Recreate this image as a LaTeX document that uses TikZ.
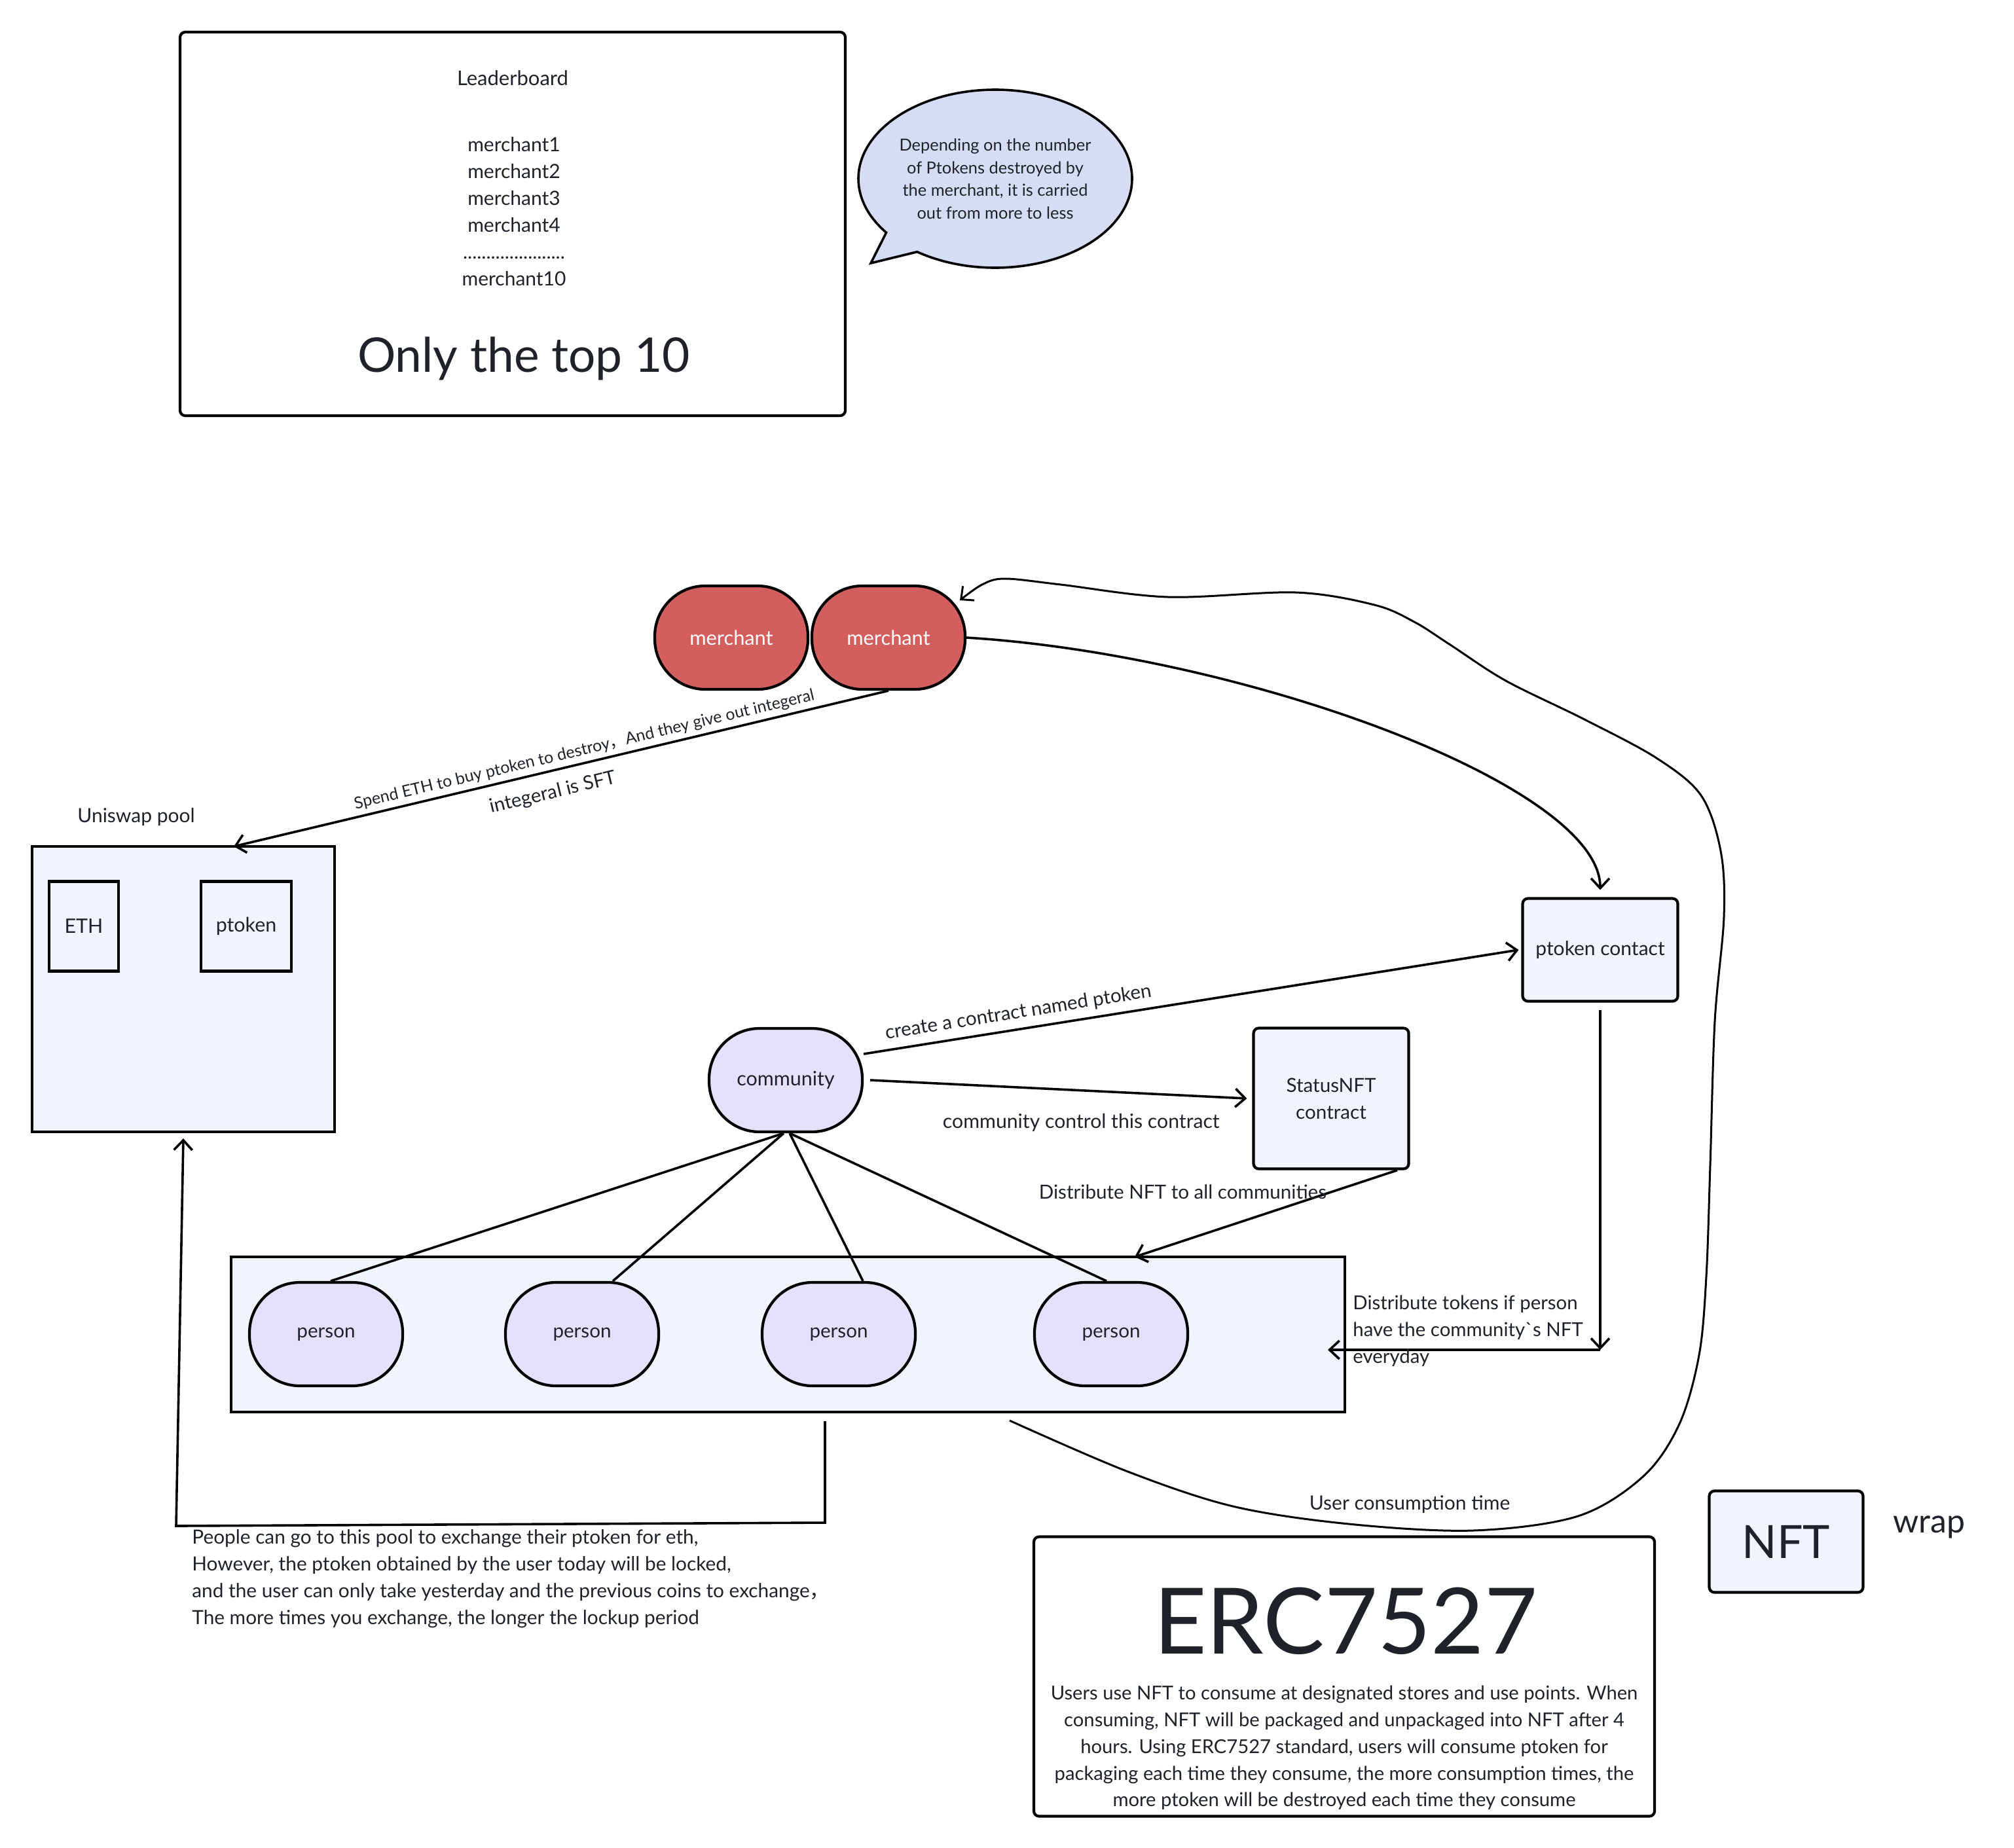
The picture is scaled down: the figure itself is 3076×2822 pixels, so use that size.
\documentclass[tikz,border=0pt]{standalone}
\usepackage{fontspec}
\setmainfont{Lato}
\newfontfamily\latonotex[Ligatures=TeXOff]{Lato}
\newfontfamily\cjk{Noto Sans CJK SC}
\usetikzlibrary{arrows.meta,shapes.callouts,calc}
\definecolor{txt}{HTML}{1F2329}
\definecolor{lblue}{HTML}{EFF4FD}
\definecolor{lav}{HTML}{E7E0FD}
\definecolor{mred}{HTML}{D35E5E}
\definecolor{bub}{HTML}{D6DCF4}
\newcommand\fsz[2]{\fontsize{#1}{#2}\selectfont}
\tikzset{
  every node/.style={text=txt, inner sep=0pt},
  rbox/.style={draw=black, line width=2.1pt, rounded corners=4pt},
  sbox/.style={draw=black, line width=2.1pt, fill=lblue},
  pill/.style={draw=black, line width=2.1pt, rounded corners=38.5pt, minimum width=117pt, minimum height=79pt, font=\fsz{15.2}{18}},
  arr/.style={line width=1.8pt, -{Straight Barb[length=7.5pt,width=14pt]}},
  ln/.style={line width=1.8pt},
  lbl/.style={font=\fsz{15}{20.5}},
}
\begin{document}
\begin{tikzpicture}[x=0.5pt,y=-0.5pt]
\path[use as bounding box] (0,0) rectangle (3076,2822);

% Leaderboard
\node[rbox, fill=white, minimum width=508pt, minimum height=293pt] (lead) at (783,342) {};
\node[font=\fsz{15.5}{20.5}] (leadt) at (783,119) {Leaderboard};
\node[lbl, align=center] (leadl) at (785,323) {merchant1\\merchant2\\merchant3\\merchant4\\......................\\merchant10};
\node[font=\fsz{36.5}{44}] (top10) at (800,548) {Only the top 10};

% speech bubble
\node[ellipse callout, draw=black, line width=1.8pt, fill=bub, minimum width=209pt, minimum height=136pt,
      callout absolute pointer={(1330,402)}, callout pointer arc=18, align=center, font=\fsz{12.7}{17.25}] (bubble) at (1520,273)
  {Depending on the number\\of Ptokens destroyed by\\the merchant, it is carried\\out from more to less};

% merchants
\node[pill, fill=mred, text=white, font=\fsz{15.4}{18}] (m1) at (1117,974) {merchant};
\node[pill, fill=mred, text=white, font=\fsz{15.4}{18}] (m2) at (1357,974) {merchant};

% Uniswap pool
\node[lbl] (poollbl) at (208,1248) {Uniswap pool};
\node[sbox, minimum width=231pt, minimum height=218pt] (pool) at (280,1511) {};
\node[sbox, minimum width=53pt, minimum height=68.5pt, font=\fsz{15.2}{18}] (eth) at (128,1415) {ETH};
\node[sbox, minimum width=69pt, minimum height=68.5pt, font=\fsz{15.2}{18}] (ptk) at (376,1415) {ptoken};
\coordinate (poolin) at (357,1293);

% contracts
\node[rbox, fill=lblue, minimum width=118.5pt, minimum height=78.5pt, font=\fsz{15}{18}] (contact) at (2444,1451) {ptoken contact};
\node[rbox, fill=lblue, minimum width=118.5pt, minimum height=107.5pt, align=center, font=\fsz{14.8}{20.5}] (snft) at (2033,1678) {StatusNFT\\contract};
\node[pill, fill=lav] (comm) at (1200,1650) {community};

% persons group
\node[sbox, minimum width=850.5pt, minimum height=118.5pt] (grp) at (1203.5,2038.5) {};
\node[pill, fill=lav, font=\fsz{14.8}{18}] (p1) at (498,2038) {person};
\node[pill, fill=lav, font=\fsz{14.8}{18}] (p2) at (889,2038) {person};
\node[pill, fill=lav, font=\fsz{14.8}{18}] (p3) at (1281,2038) {person};
\node[pill, fill=lav, font=\fsz{14.8}{18}] (p4) at (1697,2038) {person};

% ERC7527
\node[rbox, fill=white, minimum width=474pt, minimum height=213.5pt] (erc) at (2053,2561) {};
\node[font=\fsz{70}{80}] (erct) at (2055,2476) {ERC7527};
\node[align=center, font=\fsz{14.6}{20.4}] (ercb) at (2053,2670) {Users use NFT to consume at designated stores and use points. When\\consuming, NFT will be packaged and unpackaged into NFT after 4\\hours. Using ERC7527 standard, users will consume ptoken for\\packaging each time they consume, the more consumption times, the\\more ptoken will be destroyed each time they consume};

% NFT wrap
\node[rbox, fill=lblue, minimum width=117.5pt, minimum height=77.5pt, font=\fsz{35}{40}] (nft) at (2728,2355) {NFT};
\node[font=\fsz{25}{30}] (wrap) at (2946,2333) {wrap};

% connectors
\draw[arr] (m2.south) -- node[sloped, above=3pt, pos=0.46, font=\fsz{12.5}{14}] (spend) {Spend ETH to buy ptoken to destroy{\cjk ，}And they give out integeral}
   node[sloped, below=9pt, pos=0.52, font=\fsz{14.7}{16}] (sft) {integeral is SFT} (poolin);

\draw[arr] (m2.east) .. controls (1900,1000) and (2444,1200) .. ([yshift=5.5pt]contact.north);

\draw[arr] ([yshift=20pt]comm.east) -- node[sloped, above=5pt, pos=0.24, font=\fsz{14.8}{18}] (create) {create a contract named ptoken} ([xshift=-2pt]contact.west);
\draw[arr] ([xshift=5pt]comm.east) -- node[pos=0.56, below=17pt, font=\fsz{15.1}{18}] (ctrl) {community control this contract} ([xshift=-4pt]snft.west);

\coordinate (nftin) at (1733,1920);
\draw[arr] ([xshift=50.5pt]snft.south) -- node[pos=0.25, left=3pt, font=\fsz{14.8}{18}] (distnft) {Distribute NFT to all communities} (nftin);

\draw[ln] ([xshift=-1.5pt]comm.south) -- ([xshift=3.5pt]p1.north);
\draw[ln] ([xshift=-1.5pt]comm.south) -- ([xshift=23.5pt]p2.north);
\draw[ln] ([xshift=3pt]comm.south) -- ([xshift=18.5pt]p3.north);
\draw[ln] ([xshift=3pt]comm.south) -- ([xshift=-3.5pt]p4.north);

\coordinate (corner) at (2444,2062);
\coordinate (tokin) at (2028,2062);
\draw[arr] ([yshift=-5.5pt]contact.south) -- (corner);
\draw[arr] (corner) -- (tokin);
\node[anchor=west, align=left, font=\fsz{14.7}{20.5}] (disttok) at (2066,2033) {Distribute tokens if person\\have the community{\latonotex\symbol{96}}s NFT\\everyday};

\coordinate (lb1) at (1260,2171);
\coordinate (lb2) at (1260,2326);
\coordinate (lb3) at (269,2331);
\draw[arr] (lb1) -- (lb2) -- (lb3) -- ([yshift=-4pt]pool.south);
\node[anchor=north west, align=left, font=\fsz{14.9}{20.5}] (people) at (293,2336) {People can go to this pool to exchange their ptoken for eth,\\However, the ptoken obtained by the user today will be locked,\\and the user can only take yesterday and the previous coins to exchange{\cjk ，}\\The more times you exchange, the longer the lockup period};

\coordinate (uc) at (1542,2170);
\draw[arr, line width=1.5pt] plot[smooth, tension=0.55] coordinates {(uc) (1720,2247) (1883,2301) (2060,2328) (2250,2338) (2410,2316) (2510,2255) (2565,2175) (2595,2070) (2606,1950) (2612,1780) (2619,1560) (2633,1400) (2628,1300) (2598,1215) (2530,1158) (2420,1099) (2300,1040) (2215,985) (2160,950) (2099,924) (1979,905) (1784,912) (1620,893) (1535,884) (1500,893) (1466,917)};
\node[font=\fsz{15}{18}] (uct) at (2153,2298) {User consumption time};
\end{tikzpicture}
\end{document}
